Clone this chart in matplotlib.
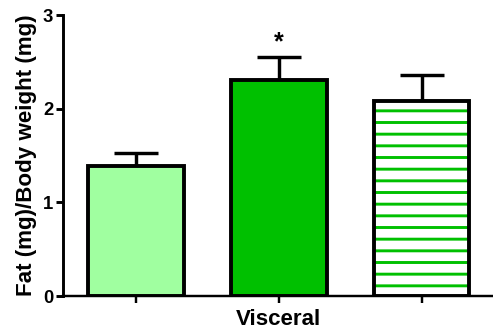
import numpy as np
import matplotlib.pyplot as plt

# Fat / body weight ratio, three groups (visceral depot)
groups = ["Group 1", "Group 2", "Group 3"]
means = [1.39, 2.31, 2.08]
sems = [0.14, 0.24, 0.28]
marks = ["", "*", ""]

plt.rcParams['font.family'] = ['Liberation Sans', 'DejaVu Sans']
plt.rcParams['font.weight'] = 'bold'
plt.rcParams['hatch.linewidth'] = 3.0

dpi = 70
fig = plt.figure(figsize=(493 / dpi, 335 / dpi), dpi=dpi)
ax = fig.add_axes([0.128, 0.116, 0.872, 0.839])

x = np.arange(len(groups))
faces = ['#a0ffa0', '#00c000', 'white']
hatches = ['', '', '-']
w = 0.67

# fill (hatch takes the edge colour, so the stripes go on a separate layer)
ax.bar(x, means, width=w, color=faces, edgecolor='#00c000', linewidth=0,
       hatch=hatches, zorder=2)
# black outlines
ax.bar(x, means, width=w, fill=False, edgecolor='black', linewidth=4,
       zorder=3)

# upper error bars only
ax.errorbar(x, means, yerr=[np.zeros(len(sems)), sems], fmt='none',
            ecolor='black', elinewidth=3.5, capsize=23, capthick=3.5, zorder=1)

for xi, m, s, t in zip(x, means, sems, marks):
    if t:
        ax.text(xi, m + s + 0.03, t, ha='center', va='bottom',
                fontsize=26, fontweight='bold')

ax.set_xlim(-0.51, 2.5)
ax.set_ylim(0, 3)
ax.set_yticks([0, 1, 2, 3])
ax.set_xticks(x)
ax.set_xticklabels([])
ax.tick_params(axis='y', length=7, width=3, labelsize=19, pad=3)
ax.tick_params(axis='x', length=7, width=2.5)

for side in ['top', 'right']:
    ax.spines[side].set_visible(False)
ax.spines['left'].set_linewidth(3)
ax.spines['bottom'].set_linewidth(2.5)

ax.set_ylabel('Fat (mg)/Body weight (mg)', fontsize=23, fontweight='bold',
              labelpad=6)
ax.set_xlabel('Visceral', fontsize=23, fontweight='bold', labelpad=3)

fig.savefig('out.png', dpi=dpi)
